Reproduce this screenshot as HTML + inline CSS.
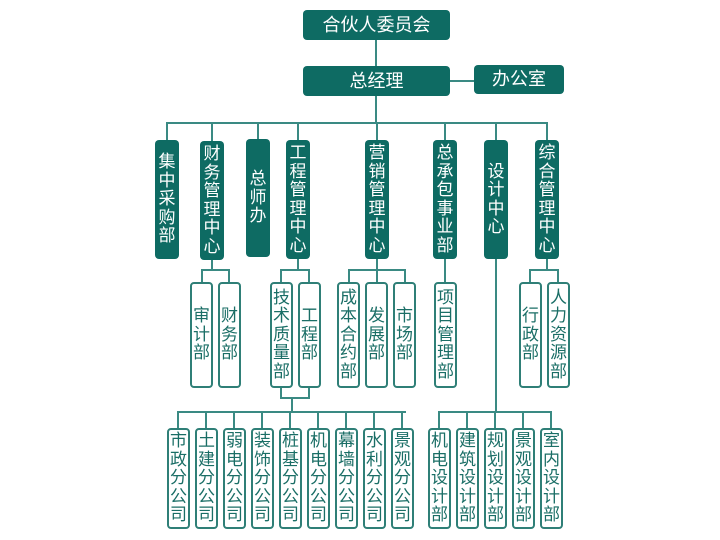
<!DOCTYPE html>
<html><head><meta charset="utf-8"><style>
body{margin:0;width:720px;height:540px;background:#fff;position:relative;overflow:hidden;font-family:"Liberation Sans","Noto Sans CJK SC",sans-serif}
.b{position:absolute;box-sizing:border-box;border-radius:4px;display:flex;align-items:center;justify-content:center;text-align:center;font-size:17px;line-height:18.5px}
.f{background:#0e6b63;color:#fff}
.o{background:#fff;border:2px solid #2f7f77;color:#1a6e66}
.h{font-size:18px}
.l{position:absolute;background:#3a8a83}
</style></head><body>
<div class="l" style="left:375px;top:40px;width:2px;height:26px"></div>
<div class="l" style="left:450px;top:80px;width:24px;height:2px"></div>
<div class="l" style="left:375px;top:96px;width:2px;height:27px"></div>
<div class="l" style="left:166px;top:122px;width:382px;height:2px"></div>
<div class="l" style="left:166px;top:122px;width:2px;height:18px"></div>
<div class="l" style="left:211px;top:122px;width:2px;height:19px"></div>
<div class="l" style="left:257px;top:122px;width:2px;height:17px"></div>
<div class="l" style="left:297px;top:122px;width:2px;height:18px"></div>
<div class="l" style="left:444px;top:122px;width:2px;height:18px"></div>
<div class="l" style="left:495px;top:122px;width:2px;height:18px"></div>
<div class="l" style="left:546px;top:122px;width:2px;height:18px"></div>
<div class="l" style="left:376px;top:122px;width:2px;height:18px"></div>

<div class="l" style="left:211px;top:259px;width:2px;height:11px"></div>
<div class="l" style="left:201px;top:269px;width:29px;height:2px"></div>
<div class="l" style="left:201px;top:269px;width:2px;height:13px"></div>
<div class="l" style="left:228px;top:269px;width:2px;height:13px"></div>

<div class="l" style="left:297px;top:259px;width:2px;height:11px"></div>
<div class="l" style="left:280px;top:269px;width:30px;height:2px"></div>
<div class="l" style="left:280px;top:269px;width:2px;height:13px"></div>
<div class="l" style="left:308px;top:269px;width:2px;height:13px"></div>

<div class="l" style="left:376px;top:259px;width:2px;height:11px"></div>
<div class="l" style="left:348px;top:269px;width:58px;height:2px"></div>
<div class="l" style="left:348px;top:269px;width:2px;height:13px"></div>
<div class="l" style="left:376px;top:269px;width:2px;height:13px"></div>
<div class="l" style="left:404px;top:269px;width:2px;height:13px"></div>

<div class="l" style="left:444px;top:259px;width:2px;height:23px"></div>

<div class="l" style="left:546px;top:259px;width:2px;height:11px"></div>
<div class="l" style="left:529px;top:269px;width:30px;height:2px"></div>
<div class="l" style="left:529px;top:269px;width:2px;height:13px"></div>
<div class="l" style="left:557px;top:269px;width:2px;height:13px"></div>

<div class="l" style="left:280px;top:388px;width:2px;height:11px"></div>
<div class="l" style="left:308px;top:388px;width:2px;height:11px"></div>
<div class="l" style="left:280px;top:397px;width:30px;height:2px"></div>
<div class="l" style="left:291px;top:397px;width:2px;height:15px"></div>
<div class="l" style="left:177px;top:411px;width:229px;height:2px"></div>
<div class="l" style="left:495px;top:259px;width:2px;height:153px"></div>
<div class="l" style="left:438px;top:411px;width:114px;height:2px"></div>

<div class="l" style="left:177px;top:411px;width:2px;height:17px"></div>
<div class="l" style="left:205px;top:411px;width:2px;height:17px"></div>
<div class="l" style="left:233px;top:411px;width:2px;height:17px"></div>
<div class="l" style="left:261px;top:411px;width:2px;height:17px"></div>
<div class="l" style="left:289px;top:411px;width:2px;height:17px"></div>
<div class="l" style="left:317px;top:411px;width:2px;height:17px"></div>
<div class="l" style="left:345px;top:411px;width:2px;height:17px"></div>
<div class="l" style="left:373px;top:411px;width:2px;height:17px"></div>
<div class="l" style="left:401px;top:411px;width:2px;height:17px"></div>
<div class="l" style="left:438px;top:411px;width:2px;height:17px"></div>
<div class="l" style="left:466px;top:411px;width:2px;height:17px"></div>
<div class="l" style="left:494px;top:411px;width:2px;height:17px"></div>
<div class="l" style="left:522px;top:411px;width:2px;height:17px"></div>
<div class="l" style="left:550px;top:411px;width:2px;height:17px"></div>

<div class="b f h" style="left:303px;top:10px;width:147px;height:30px">合伙人委员会</div>
<div class="b f h" style="left:303px;top:66px;width:147px;height:30px">总经理</div>
<div class="b f h" style="left:474px;top:65px;width:90px;height:29px">办公室</div>

<div class="b f" style="left:155px;top:140px;width:24px;height:119px">集<br>中<br>采<br>购<br>部</div>
<div class="b f" style="left:200px;top:141px;width:24px;height:119px">财<br>务<br>管<br>理<br>中<br>心</div>
<div class="b f" style="left:246px;top:139px;width:24px;height:118px">总<br>师<br>办</div>
<div class="b f" style="left:286px;top:140px;width:24px;height:119px">工<br>程<br>管<br>理<br>中<br>心</div>
<div class="b f" style="left:365px;top:140px;width:24px;height:119px">营<br>销<br>管<br>理<br>中<br>心</div>
<div class="b f" style="left:433px;top:140px;width:24px;height:119px">总<br>承<br>包<br>事<br>业<br>部</div>
<div class="b f" style="left:484px;top:140px;width:24px;height:119px">设<br>计<br>中<br>心</div>
<div class="b f" style="left:535px;top:140px;width:24px;height:119px">综<br>合<br>管<br>理<br>中<br>心</div>

<div class="b o" style="left:190px;top:282px;width:23px;height:106px">审<br>计<br>部</div>
<div class="b o" style="left:218px;top:282px;width:23px;height:106px">财<br>务<br>部</div>
<div class="b o" style="left:270px;top:282px;width:23px;height:106px">技<br>术<br>质<br>量<br>部</div>
<div class="b o" style="left:298px;top:282px;width:23px;height:106px">工<br>程<br>部</div>
<div class="b o" style="left:337px;top:282px;width:23px;height:106px">成<br>本<br>合<br>约<br>部</div>
<div class="b o" style="left:365px;top:282px;width:23px;height:106px">发<br>展<br>部</div>
<div class="b o" style="left:393px;top:282px;width:23px;height:106px">市<br>场<br>部</div>
<div class="b o" style="left:434px;top:282px;width:23px;height:106px">项<br>目<br>管<br>理<br>部</div>
<div class="b o" style="left:519px;top:282px;width:23px;height:106px">行<br>政<br>部</div>
<div class="b o" style="left:547px;top:282px;width:23px;height:106px">人<br>力<br>资<br>源<br>部</div>

<div class="b o" style="left:167px;top:428px;width:23px;height:101px">市<br>政<br>分<br>公<br>司</div>
<div class="b o" style="left:195px;top:428px;width:23px;height:101px">土<br>建<br>分<br>公<br>司</div>
<div class="b o" style="left:223px;top:428px;width:23px;height:101px">弱<br>电<br>分<br>公<br>司</div>
<div class="b o" style="left:251px;top:428px;width:23px;height:101px">装<br>饰<br>分<br>公<br>司</div>
<div class="b o" style="left:279px;top:428px;width:23px;height:101px">桩<br>基<br>分<br>公<br>司</div>
<div class="b o" style="left:307px;top:428px;width:23px;height:101px">机<br>电<br>分<br>公<br>司</div>
<div class="b o" style="left:335px;top:428px;width:23px;height:101px">幕<br>墙<br>分<br>公<br>司</div>
<div class="b o" style="left:363px;top:428px;width:23px;height:101px">水<br>利<br>分<br>公<br>司</div>
<div class="b o" style="left:391px;top:428px;width:23px;height:101px">景<br>观<br>分<br>公<br>司</div>
<div class="b o" style="left:428px;top:428px;width:23px;height:101px">机<br>电<br>设<br>计<br>部</div>
<div class="b o" style="left:456px;top:428px;width:23px;height:101px">建<br>筑<br>设<br>计<br>部</div>
<div class="b o" style="left:484px;top:428px;width:23px;height:101px">规<br>划<br>设<br>计<br>部</div>
<div class="b o" style="left:512px;top:428px;width:23px;height:101px">景<br>观<br>设<br>计<br>部</div>
<div class="b o" style="left:540px;top:428px;width:23px;height:101px">室<br>内<br>设<br>计<br>部</div>
</body></html>
